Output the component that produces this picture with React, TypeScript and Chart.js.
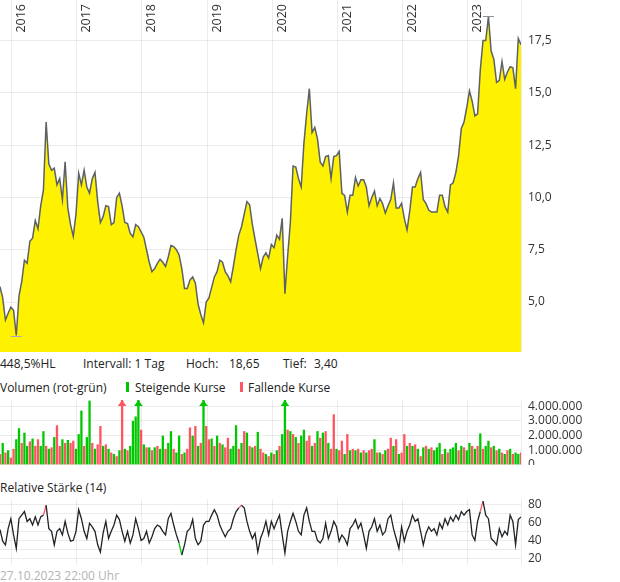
import { useEffect, useRef } from "react"
import { Chart, registerables } from "chart.js"

Chart.register(...registerables)
Chart.defaults.font.family = "'Open Sans', sans-serif"
Chart.defaults.font.size = 12
Chart.defaults.color = "#333"

// half-monthly samples, last one on 27.10.2023
const END_YEAR = 2023.82
const STEP = 1 / 24
const YEARS = [2016, 2017, 2018, 2019, 2020, 2021, 2022, 2023]

const PRICE = [
  5.73, 5.2, 4.14, 4.46, 4.75, 4.6, 3.4, 5.3, 5.97, 7.0, 6.85, 7.9, 8.05, 8.9, 8.5, 9.6, 10.35, 13.6, 11.6, 11.3,
  11.4, 10.6, 10.9, 9.9, 11.7, 9.5, 8.7, 8.15, 9.2, 11.15, 10.6, 11.3, 10.5, 10.2, 10.9, 11.2, 9.8, 8.8, 9.08, 9.6,
  9.56, 8.7, 8.8, 10.0, 10.2, 9.6, 8.8, 8.75, 8.28, 8.12, 8.7, 8.6, 8.35, 8.1, 7.5, 6.9, 6.45, 6.6, 6.85, 7.05,
  6.9, 6.7, 7.15, 7.7, 7.65, 7.5, 7.25, 6.6, 5.65, 5.65, 6.05, 6.2, 5.9, 4.9, 4.4, 4.0, 5.0, 5.2, 5.7, 6.2,
  6.45, 7.0, 6.9, 6.45, 6.25, 5.97, 6.7, 7.5, 8.2, 8.6, 9.2, 9.8, 9.65, 8.7, 8.0, 7.3, 6.6, 7.15, 7.35, 7.1,
  7.75, 7.6, 8.2, 8.0, 9.0, 5.4, 7.2, 8.8, 11.5, 11.45, 10.9, 10.5, 12.6, 14.0, 15.2, 13.1, 13.35, 12.8, 11.7, 11.5,
  11.95, 12.0, 10.9, 11.95, 12.0, 12.2, 10.2, 10.1, 9.3, 10.1, 10.1, 10.95, 10.55, 10.85, 10.85, 10.5, 9.6, 10.0, 10.3, 9.6,
  9.95, 9.7, 9.25, 9.6, 9.9, 10.7, 9.5, 9.5, 9.72, 9.0, 8.45, 9.35, 10.5, 10.5, 10.9, 11.2, 9.9, 9.7, 9.4, 9.3,
  9.3, 9.3, 10.1, 10.1, 9.56, 9.3, 10.6, 10.7, 11.2, 12.0, 13.3, 13.6, 14.3, 15.1, 14.6, 13.9, 14.0, 16.1, 17.5, 17.5,
  18.65, 17.0, 16.6, 15.5, 15.6, 16.5, 15.65, 16.0, 16.25, 16.2, 15.2, 17.6, 17.3,
]

const VOLUME = [
  750000, 1500000, 850000, 1000000, 500000, 1100000, 1750000, 2500000, 1500000, 2200000,
  1300000, 1600000, 1800000, 1300000, 1750000, 1300000, 2300000, 1300000, 1100000, 1200000,
  1900000, 2700000, 1300000, 1750000, 1500000, 1700000, 1500000, 1650000, 1100000, 2100000,
  3700000, 1300000, 1900000, 4380000, 1500000, 1100000, 1400000, 2650000, 1300000, 1400000,
  1100000, 850000, 750000, 600000, 1000000, 4900000, 1100000, 1000000, 1300000, 3000000,
  3300000, 5000000, 2400000, 1400000, 1200000, 1200000, 1000000, 1200000, 1300000, 1100000,
  2000000, 1100000, 1500000, 2300000, 1100000, 850000, 2000000, 750000, 850000, 1100000,
  2550000, 2000000, 2650000, 1300000, 1500000, 5200000, 2650000, 1750000, 1800000, 1300000,
  2000000, 1500000, 1400000, 1200000, 1850000, 1100000, 1300000, 2700000, 1100000, 1500000,
  2300000, 2200000, 1300000, 1200000, 1300000, 2250000, 1100000, 850000, 750000, 600000,
  850000, 750000, 1000000, 1300000, 2100000, 5500000, 2400000, 2300000, 2100000, 1900000,
  1500000, 2000000, 2400000, 1650000, 2000000, 1300000, 1500000, 2300000, 1850000, 2200000,
  2300000, 1500000, 1100000, 3450000, 1100000, 1000000, 1650000, 750000, 2100000, 1000000,
  1100000, 1000000, 1100000, 850000, 1000000, 850000, 1000000, 1100000, 1750000, 850000,
  850000, 750000, 1000000, 1100000, 1850000, 1300000, 1750000, 750000, 850000, 2100000,
  1300000, 1500000, 1300000, 1400000, 1100000, 600000, 1200000, 1300000, 1100000, 1200000,
  1000000, 1200000, 1500000, 750000, 1100000, 850000, 1100000, 1200000, 1500000, 1000000,
  1300000, 1200000, 1000000, 1500000, 1300000, 1100000, 1300000, 2150000, 1100000, 1300000,
  1650000, 1200000, 1300000, 1000000, 1100000, 850000, 750000, 1000000, 1100000, 750000,
  850000, 750000, 850000,
]

// 1 = steigend (grün), 0 = fallend (rot)
const VOLUME_UP = [
  0, 1, 0, 1, 0, 0, 1, 1, 0, 1, 1, 0, 1, 0, 0, 1, 1, 0, 1, 0,
  1, 0, 0, 1, 0, 1, 0, 0, 1, 1, 1, 0, 1, 1, 0, 1, 0, 0, 1, 0,
  1, 0, 1, 0, 1, 0, 1, 0, 1, 1, 1, 1, 0, 1, 0, 1, 0, 1, 0, 1,
  1, 0, 1, 1, 0, 1, 1, 0, 1, 0, 0, 1, 0, 1, 0, 1, 0, 0, 1, 0,
  1, 0, 1, 0, 0, 1, 1, 1, 0, 1, 0, 1, 0, 1, 0, 1, 0, 0, 1, 0,
  1, 0, 1, 0, 1, 1, 0, 1, 0, 1, 0, 1, 1, 0, 0, 1, 0, 1, 0, 1,
  0, 1, 0, 0, 1, 0, 0, 1, 0, 1, 0, 1, 0, 1, 0, 1, 0, 0, 1, 0,
  1, 0, 1, 0, 0, 1, 0, 1, 0, 0, 1, 0, 1, 0, 1, 0, 1, 0, 1, 0,
  1, 1, 1, 0, 1, 0, 1, 1, 1, 0, 1, 0, 1, 1, 0, 1, 0, 1, 0, 1,
  1, 0, 1, 0, 1, 0, 1, 0, 1, 0, 1, 1, 0,
]

const RSI = [
  52, 39, 35, 53, 64, 46, 31, 64, 68, 72, 61, 64, 57, 66, 57, 66, 68, 79, 53, 50,
  35, 50, 53, 46, 61, 48, 39, 40, 50, 74, 64, 50, 42, 59, 55, 50, 35, 27, 48, 61,
  42, 50, 57, 68, 63, 50, 39, 50, 37, 46, 64, 53, 40, 42, 50, 37, 44, 53, 57, 55,
  50, 46, 64, 70, 57, 46, 37, 23.7, 35, 50, 53, 63, 42, 35, 39, 57, 61, 61, 68, 74,
  68, 57, 50, 44, 50, 53, 64, 72, 76, 79, 76, 61, 50, 42, 48, 27, 42, 50, 61, 46,
  61, 53, 61, 68, 46, 26, 50, 61, 70, 61, 50, 46, 68, 76, 61, 50, 50, 40, 37, 42,
  59, 42, 50, 61, 55, 39, 46, 42, 35, 53, 57, 63, 53, 59, 46, 31, 50, 55, 64, 50,
  57, 46, 50, 64, 68, 53, 42, 31, 55, 39, 50, 57, 68, 61, 64, 50, 35, 48, 55, 50,
  53, 46, 59, 53, 64, 57, 66, 61, 68, 63, 72, 68, 72, 74, 46, 40, 61, 72, 83.5, 68,
  64, 42, 39, 35, 53, 44, 50, 46, 68, 61, 35, 63, 66,
]

const PRICE_TICKS = [5, 7.5, 10, 12.5, 15, 17.5]
const VOLUME_TICKS = [0, 1000000, 2000000, 3000000, 4000000]
const RSI_TICKS = [20, 30, 40, 50, 60, 70, 80]
const RSI_LABELS = [20, 40, 60, 80]

const GREEN = "#00c800"
const RED = "#ff5560"
const GRID = "rgba(0,0,0,0.075)"
const AXIS_W = 99
const VOL_MAX = 4420000

const DATES = PRICE.map((_, i) => END_YEAR - (PRICE.length - 1 - i) * STEP)

const xScale = (z = 0) => ({
  type: "linear" as const,
  min: DATES[0],
  max: END_YEAR,
  offset: false,
  z,
  border: { display: false },
  grid: { color: GRID, drawTicks: false, offset: false },
  ticks: { display: false },
  afterBuildTicks: (s: any) => {
    s.ticks = YEARS.map((v) => ({ value: v }))
  },
})

const yScale = (min: number, max: number, ticks: number[], fmt: (v: number) => string, z = 0) => ({
  position: "right" as const,
  min,
  max,
  z,
  border: { display: true, color: GRID },
  grid: { color: GRID, drawTicks: false },
  ticks: {
    padding: 7,
    color: "#333",
    font: { size: 12 },
    autoSkip: false,
    callback: (v: any) => fmt(Number(v)),
  },
  afterBuildTicks: (s: any) => {
    s.ticks = ticks.map((v) => ({ value: v }))
  },
  afterFit: (s: any) => {
    s.width = AXIS_W
    s.paddingTop = 0
    s.paddingBottom = 0
  },
})

const fmtPrice = (v: number) => v.toFixed(1).replace(".", ",")
const fmtVolume = (v: number) => String(Math.round(v)).replace(/\B(?=(\d{3})+(?!\d))/g, ".")
const fmtRsi = (v: number) => (RSI_LABELS.includes(v) ? String(v) : "")

const priceOverlay = {
  id: "priceOverlay",
  afterDraw(chart: any) {
    const { ctx, scales } = chart
    const x = scales.x
    const y = scales.y
    ctx.save()
    ctx.font = "12.5px 'Open Sans', sans-serif"
    ctx.fillStyle = "#333"
    ctx.textAlign = "right"
    ctx.textBaseline = "alphabetic"
    YEARS.forEach((yr) => {
      ctx.save()
      ctx.translate(x.getPixelForValue(yr) + 13.5, 4)
      ctx.rotate(-Math.PI / 2)
      ctx.fillText(String(yr), 0, 0)
      ctx.restore()
    })
    // Hoch / Tief markers
    const hi = PRICE.indexOf(Math.max(...PRICE))
    const lo = PRICE.indexOf(Math.min(...PRICE))
    const mark = (i: number, color: string, dy: number) => {
      const px = x.getPixelForValue(DATES[i])
      const py = Math.round(y.getPixelForValue(PRICE[i]) + dy) + 0.5
      ctx.strokeStyle = color
      ctx.lineWidth = 1
      ctx.beginPath()
      ctx.moveTo(px - 5.5, py)
      ctx.lineTo(px + 5.5, py)
      ctx.stroke()
    }
    mark(hi, "#8c9196", -1)
    mark(lo, "#a3a7c6", 0.5)
    ctx.restore()
  },
}

const volumeArrows = {
  id: "volumeArrows",
  afterDatasetsDraw(chart: any) {
    const { ctx, scales, chartArea } = chart
    ctx.save()
    VOLUME.forEach((v, i) => {
      if (v <= VOL_MAX) return
      const px = scales.x.getPixelForValue(DATES[i])
      const top = chartArea.top
      ctx.fillStyle = VOLUME_UP[i] ? GREEN : RED
      ctx.beginPath()
      ctx.moveTo(px, top)
      ctx.lineTo(px + 3.5, top + 5)
      ctx.lineTo(px - 3.5, top + 5)
      ctx.closePath()
      ctx.fill()
      ctx.fillRect(px - 4, top + 5, 8, 1)
    })
    ctx.restore()
  },
}

const textStyle = {
  position: "absolute" as const,
  fontFamily: "'Open Sans', sans-serif",
  fontSize: 12,
  lineHeight: "16px",
  color: "#222",
  whiteSpace: "nowrap" as const,
}

export default function App() {
  const priceRef = useRef<HTMLCanvasElement>(null)
  const volumeRef = useRef<HTMLCanvasElement>(null)
  const rsiRef = useRef<HTMLCanvasElement>(null)

  useEffect(() => {
    const charts: Chart[] = []

    if (priceRef.current) {
      charts.push(
        new Chart(priceRef.current, {
          type: "line",
          data: {
            datasets: [
              {
                data: DATES.map((t, i) => ({ x: t, y: PRICE[i] })),
                borderColor: "#5c6166",
                borderWidth: 1.5,
                backgroundColor: "#fff200",
                fill: "start",
                pointRadius: 0,
                tension: 0,
              },
            ],
          },
          options: {
            animation: false,
            responsive: false,
            maintainAspectRatio: false,
            layout: { padding: 0 },
            plugins: { legend: { display: false }, tooltip: { enabled: false } },
            scales: {
              x: xScale(1),
              y: yScale(2.61, 19.44, PRICE_TICKS, fmtPrice, 1),
            },
          } as any,
          plugins: [priceOverlay],
        })
      )
    }

    if (volumeRef.current) {
      charts.push(
        new Chart(volumeRef.current, {
          type: "bar",
          data: {
            datasets: [
              {
                data: DATES.map((t, i) => ({ x: t, y: VOLUME[i] })),
                backgroundColor: VOLUME_UP.map((u) => (u ? GREEN : RED)),
                barPercentage: 0.85,
                categoryPercentage: 1,
                borderWidth: 0,
              },
            ],
          },
          options: {
            animation: false,
            responsive: false,
            maintainAspectRatio: false,
            layout: { padding: 0 },
            plugins: { legend: { display: false }, tooltip: { enabled: false } },
            scales: {
              x: xScale(),
              y: yScale(0, VOL_MAX, VOLUME_TICKS, fmtVolume),
            },
          } as any,
          plugins: [volumeArrows],
        })
      )
    }

    if (rsiRef.current) {
      charts.push(
        new Chart(rsiRef.current, {
          type: "line",
          data: {
            datasets: [
              {
                data: DATES.map((t, i) => ({ x: t, y: RSI[i] })),
                borderColor: "#1f2326",
                borderWidth: 1.3,
                pointRadius: 0,
                tension: 0,
                fill: false,
                segment: {
                  borderColor: (c: any) => (c.p1.parsed.y > 78 ? RED : c.p1.parsed.y < 25 ? GREEN : undefined),
                },
              },
            ],
          },
          options: {
            animation: false,
            responsive: false,
            maintainAspectRatio: false,
            layout: { padding: 0 },
            plugins: { legend: { display: false }, tooltip: { enabled: false } },
            scales: {
              x: xScale(),
              y: yScale(12.6, 85.9, RSI_TICKS, fmtRsi),
            },
          } as any,
        })
      )
    }

    return () => {
      charts.forEach((c) => c.destroy())
    }
  }, [])

  return (
    <div style={{ position: "absolute", left: 0, top: 0, width: 620, height: 582, background: "#fff", overflow: "hidden" }}>
      <canvas ref={priceRef} width={620} height={352} style={{ position: "absolute", left: 0, top: 0 }} />

      <div style={{ ...textStyle, left: 0, top: 356 }}>448,5%HL</div>
      <div style={{ ...textStyle, left: 83, top: 356 }}>Intervall: 1 Tag</div>
      <div style={{ ...textStyle, left: 186, top: 356 }}>Hoch:</div>
      <div style={{ ...textStyle, left: 229, top: 356 }}>18,65</div>
      <div style={{ ...textStyle, left: 283, top: 356 }}>Tief:</div>
      <div style={{ ...textStyle, left: 314, top: 356 }}>3,40</div>

      <div style={{ ...textStyle, left: 0, top: 380 }}>Volumen (rot-grün)</div>
      <div style={{ position: "absolute", left: 126, top: 382, width: 3, height: 10, background: GREEN }} />
      <div style={{ ...textStyle, left: 135, top: 380 }}>Steigende Kurse</div>
      <div style={{ position: "absolute", left: 240, top: 382, width: 3, height: 10, background: RED }} />
      <div style={{ ...textStyle, left: 248, top: 380 }}>Fallende Kurse</div>

      <canvas ref={volumeRef} width={620} height={65} style={{ position: "absolute", left: 0, top: 400 }} />

      <div style={{ ...textStyle, left: 0, top: 480 }}>Relative Stärke (14)</div>

      <canvas ref={rsiRef} width={620} height={66} style={{ position: "absolute", left: 0, top: 499 }} />

      <div style={{ ...textStyle, left: 0, top: 568, color: "#b4b4b4" }}>27.10.2023 22:00 Uhr</div>
    </div>
  )
}
